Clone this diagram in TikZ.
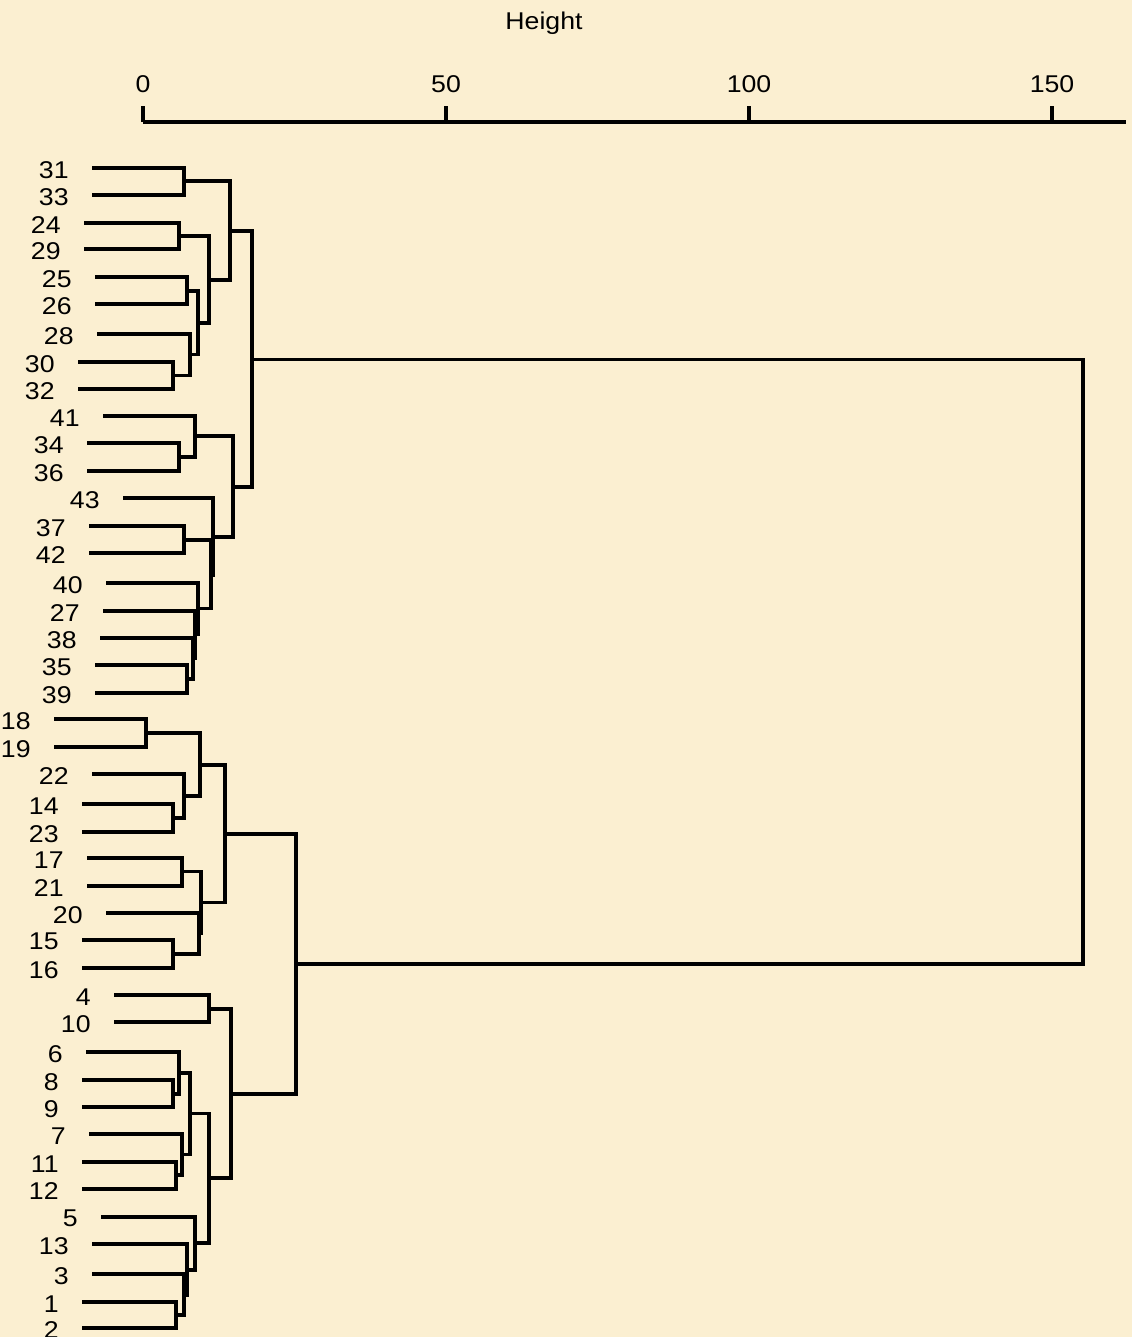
\documentclass[tikz,border=0pt]{standalone}
\usepackage{fontspec}
\setmainfont{Liberation Sans}[FakeStretch=1.1]
\usetikzlibrary{calc}
\definecolor{parchment}{RGB}{251,239,209}

\tikzset{
  branch/.style={draw=black, line width=0.075cm, line join=miter},
  leaflabel/.style={anchor=east, inner sep=0pt, font=\fontsize{13.8}{16}\selectfont},
  axislabel/.style={inner sep=0pt, font=\fontsize{13.8}{16}\selectfont},
}
% one page pixel in pt
\def\pxpt{0.566929}

% leaf: label, start x, y  (units are pixels of the page)
\newcommand\dleaf[3]{%
  \coordinate (L#1) at ({round(#2)},{round(#3)});
  \node[leaflabel] (T#1) at ([xshift=-0.46cm, yshift=-0.035cm]L#1) {#1};
}
% merge: name, height x, child a, child b
\newcommand\dmerge[4]{%
  \path let \p1=($(#3)!.5!(#4)$), \p2=({round(#2)},0) in
    coordinate (#1) at (\x2,{round(\y1/\pxpt)*\pxpt*1pt});
  \draw[branch] (#3) -| (#1) |- (#4);
}

\begin{document}
\begin{tikzpicture}[x=0.02cm, y=-0.02cm]
\fill[parchment] (0,0) rectangle (1132,1337);
\useasboundingbox (0,0) rectangle (1132,1337);

% height axis
\node[axislabel] (ylab) at (544,23) {Height};
\coordinate (axL) at (143,122);
\coordinate (axR) at (1126,122);
\draw[branch] (axL) -- (axR);
\foreach \v/\px in {0/143, 50/446, 100/749, 150/1052}{
  \coordinate (tk\v) at (\px,122);
  \coordinate (tt\v) at (\px,106);
  \draw[branch] (tk\v) -- (tt\v);
  \node[axislabel] (tl\v) at (\px,84) {\v};
}

% leaves
\dleaf{31}{91.7}{167.7}
\dleaf{33}{91.7}{195}
\dleaf{24}{84}{222.7}
\dleaf{29}{84}{249.3}
\dleaf{25}{95}{277}
\dleaf{26}{95}{304.3}
\dleaf{28}{97.3}{334.3}
\dleaf{30}{78.3}{361.7}
\dleaf{32}{78.3}{389}
\dleaf{41}{103}{416}
\dleaf{34}{86.7}{443.3}
\dleaf{36}{86.7}{471}
\dleaf{43}{122.7}{498.3}
\dleaf{37}{89.3}{526}
\dleaf{42}{89.3}{553.3}
\dleaf{40}{106}{583.3}
\dleaf{27}{103.3}{610.7}
\dleaf{38}{100}{637.7}
\dleaf{35}{95}{665.3}
\dleaf{39}{95}{692.7}
\dleaf{18}{54}{719.3}
\dleaf{19}{54}{746.7}
\dleaf{22}{92.3}{774}
\dleaf{14}{81.7}{804.3}
\dleaf{23}{81.7}{831.7}
\dleaf{17}{86.7}{858.3}
\dleaf{21}{86.7}{885.7}
\dleaf{20}{106}{912.7}
\dleaf{15}{81.7}{940}
\dleaf{16}{81.7}{967.7}
\dleaf{4}{114}{995}
\dleaf{10}{114}{1022.3}
\dleaf{6}{86}{1052.3}
\dleaf{8}{81.7}{1080}
\dleaf{9}{81.7}{1107.3}
\dleaf{7}{89.3}{1134.3}
\dleaf{11}{81.7}{1161.7}
\dleaf{12}{81.7}{1189.3}
\dleaf{5}{100.7}{1216.7}
\dleaf{13}{92.3}{1244}
\dleaf{3}{92.3}{1274}
\dleaf{1}{81.7}{1301.7}
\dleaf{2}{81.7}{1328.3}

% upper cluster
\dmerge{mA1}{184}{L31}{L33}
\dmerge{mA2}{179}{L24}{L29}
\dmerge{mA3}{186.7}{L25}{L26}
\dmerge{mA4}{173.3}{L30}{L32}
\dmerge{mA5}{190}{L28}{mA4}
\dmerge{mA6}{198.3}{mA3}{mA5}
\dmerge{mA7}{209}{mA2}{mA6}
\dmerge{mA8}{230}{mA1}{mA7}
\dmerge{mB1}{179}{L34}{L36}
\dmerge{mB2}{195}{L41}{mB1}
\dmerge{mB3}{184.3}{L37}{L42}
\dmerge{mB4}{187.3}{L35}{L39}
\dmerge{mB5}{192.7}{L38}{mB4}
\dmerge{mB6}{195}{L27}{mB5}
\dmerge{mB7}{198.3}{L40}{mB6}
\dmerge{mB8}{211}{mB3}{mB7}
\dmerge{mB9}{213.3}{L43}{mB8}
\dmerge{mB10}{233.3}{mB2}{mB9}
\dmerge{mTop}{252.3}{mA8}{mB10}

% lower cluster
\dmerge{mC1}{145.7}{L18}{L19}
\dmerge{mC2}{173.3}{L14}{L23}
\dmerge{mC3}{184}{L22}{mC2}
\dmerge{mC4}{200}{mC1}{mC3}
\dmerge{mC5}{181.7}{L17}{L21}
\dmerge{mC6}{173.3}{L15}{L16}
\dmerge{mC7}{199.3}{L20}{mC6}
\dmerge{mC8}{200.7}{mC5}{mC7}
\dmerge{mC9}{225.3}{mC4}{mC8}
\dmerge{mD1}{209.3}{L4}{L10}
\dmerge{mD2}{173.3}{L8}{L9}
\dmerge{mD3}{179}{L6}{mD2}
\dmerge{mD4}{176}{L11}{L12}
\dmerge{mD5}{181.7}{L7}{mD4}
\dmerge{mD6}{190}{mD3}{mD5}
\dmerge{mD7}{176}{L1}{L2}
\dmerge{mD8}{184.3}{L3}{mD7}
\dmerge{mD9}{186.7}{L13}{mD8}
\dmerge{mD10}{195}{L5}{mD9}
\dmerge{mD11}{209.3}{mD6}{mD10}
\dmerge{mD12}{230.7}{mD1}{mD11}
\dmerge{mBot}{295.7}{mC9}{mD12}

% root
\dmerge{mRoot}{1082.7}{mTop}{mBot}
\end{tikzpicture}
\end{document}
